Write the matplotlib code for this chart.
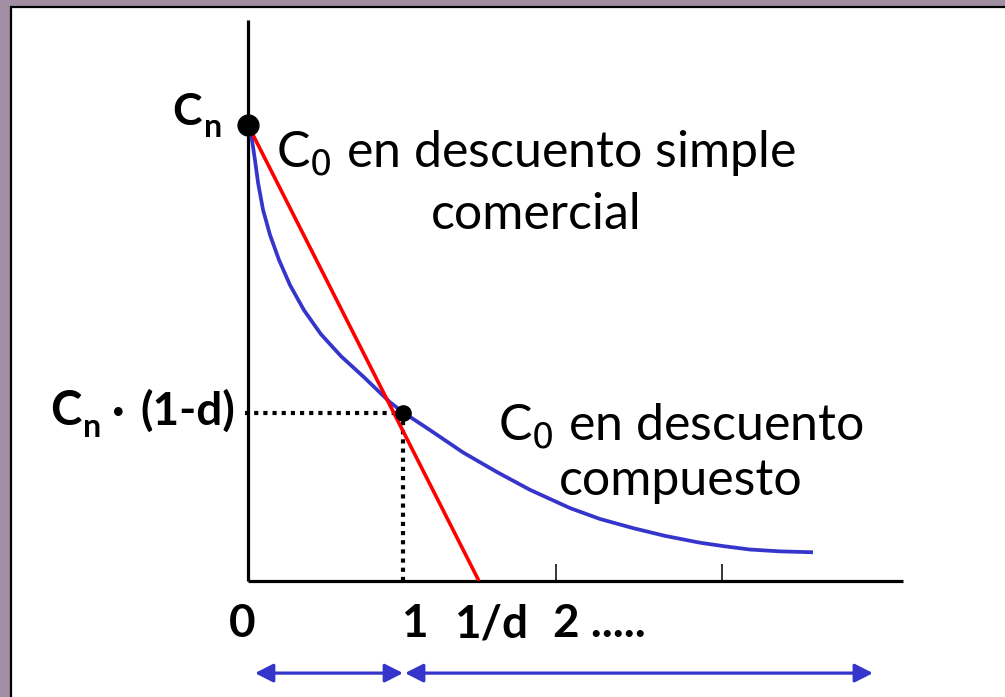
import numpy as np
import matplotlib
matplotlib.use('Agg')
import matplotlib.pyplot as plt
from matplotlib.patches import Rectangle

plt.rcParams['font.family'] = ['Lato', 'DejaVu Sans']
plt.rcParams['mathtext.fontset'] = 'dejavusans'

# compound discount curve (x in periods, y as share of Cn)
blue_x = [0.0, 0.026, 0.045, 0.065, 0.097, 0.142, 0.200, 0.271, 0.361, 0.471, 0.600,
          0.748, 0.916, 1.0, 1.174, 1.387, 1.606, 1.819, 2.077, 2.271, 2.484, 2.690,
          2.916, 3.077, 3.239, 3.432, 3.645]
blue_y = [1.0, 0.967, 0.923, 0.873, 0.814, 0.759, 0.704, 0.649, 0.594, 0.541, 0.493,
          0.447, 0.392, 0.370, 0.331, 0.282, 0.239, 0.200, 0.160, 0.136, 0.116, 0.099,
          0.084, 0.076, 0.069, 0.065, 0.063]

# simple commercial discount line
red_x = [0.0, 1.49]
red_y = [1.0, 0.0]

point_x = 1.0
point_y = 0.368

tick_pos = [1.99, 3.06]
tick_labels = ['0', '1', '1/d', '2 .....']
tick_label_x = [-0.039, 1.071, 1.568, 1.968]

purple = '#A28EA3'
blue = '#3535CC'
red = '#FF0000'

fig = plt.figure(figsize=(10.05, 6.97), dpi=100)
fig.patch.set_facecolor(purple)
fig.patches.append(Rectangle((10.5 / 1005, -0.02), 1.1, (697 - 6.5) / 697 + 0.02,
                             transform=fig.transFigure, facecolor='white',
                             edgecolor='black', lw=1.6, zorder=-10))

ax = fig.add_axes([248 / 1005, (697 - 581) / 697, (903 - 248) / 1005, (581 - 20) / 697])
ax.set_zorder(5)
ax.set_facecolor('none')
ax.set_xlim(0, 655 / 155)
ax.set_ylim(0, 561 / 456)
for s in ['top', 'right']:
    ax.spines[s].set_visible(False)
for s in ['left', 'bottom']:
    ax.spines[s].set_linewidth(2.3)
    ax.spines[s].set_capstyle('butt')
ax.set_yticks([])
ax.set_xticks(tick_pos)
ax.set_xticklabels([])
ax.tick_params(axis='x', direction='in', length=12, width=1.1, color='black')

ax.plot(blue_x, blue_y, color=blue, lw=2.7, solid_capstyle='butt',
        solid_joinstyle='round', zorder=3)
ax.plot(red_x, red_y, color=red, lw=2.6, solid_capstyle='butt', zorder=4)

ax.plot([-0.02, point_x], [point_y, point_y], color='black', lw=3,
        ls=(0, (1.0, 1.2)), clip_on=False, zorder=2)
ax.plot([point_x, point_x], [0, point_y], color='black', lw=3,
        ls=(0, (1.0, 1.2)), clip_on=False, zorder=2)

ax.plot([0], [1.0], 'o', color='black', ms=15, clip_on=False, zorder=6)
ax.plot([point_x], [point_y], 'o', color='black', ms=11, clip_on=False, zorder=6)

# y labels
ax.text(-0.297, 1.0, 'C', fontsize=32, fontweight='bold', ha='right',
        va='baseline', clip_on=False)
ax.text(-0.284, 0.974, 'n', fontsize=23, fontweight='bold', ha='left',
        va='baseline', clip_on=False)

ax.text(-1.071, 0.342, 'C', fontsize=34, fontweight='bold', ha='right',
        va='baseline', clip_on=False)
ax.text(-1.065, 0.316, 'n', fontsize=23, fontweight='bold', ha='left',
        va='baseline', clip_on=False)
ax.text(-0.839, 0.342, '\u00b7', fontsize=33, fontweight='bold', ha='center',
        va='baseline', clip_on=False)
ax.text(-0.084, 0.342, '(1-d)', fontsize=33, fontweight='bold', ha='right',
        va='baseline', clip_on=False)

# x labels
for lab, xp in zip(tick_labels, tick_label_x):
    ha = 'left' if lab.startswith('2') else 'center'
    ax.text(xp, -0.123, lab, fontsize=33, fontweight='bold', ha=ha,
            va='baseline', clip_on=False)

# annotations
ax.text(1.858, 0.908, r'C$_0$ en descuento simple', fontsize=36,
        ha='center', va='baseline')
ax.text(1.858, 0.772, 'comercial', fontsize=36, ha='center', va='baseline')
ax.text(2.794, 0.309, r'C$_0$ en descuento', fontsize=36, ha='center', va='baseline')
ax.text(2.794, 0.189, 'compuesto', fontsize=36, ha='center', va='baseline')

# period arrows
arrow = dict(arrowstyle='<|-|>,head_length=0.55,head_width=0.28', color=blue,
             lw=2.3, mutation_scale=20, shrinkA=0, shrinkB=0)
ax.annotate('', xy=(1.0, -0.202), xytext=(0.045, -0.202), arrowprops=arrow,
            annotation_clip=False)
ax.annotate('', xy=(4.032, -0.202), xytext=(1.013, -0.202), arrowprops=arrow,
            annotation_clip=False)

fig.savefig('out.png', dpi=100, facecolor=purple)
